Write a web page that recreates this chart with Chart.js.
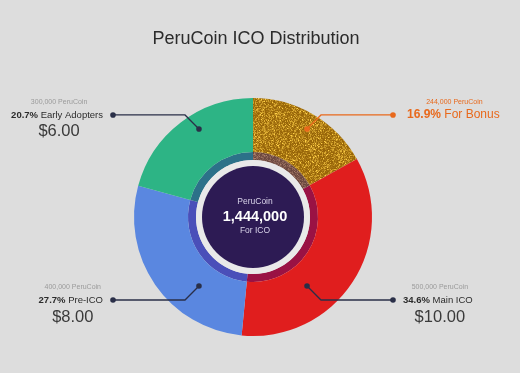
<!DOCTYPE html>
<html>
<head>
<meta charset="utf-8">
<script src="https://cdn.jsdelivr.net/npm/chart.js"></script>
<style>
html, body { margin: 0; background: #dddddd; }
canvas { display: block; }
</style>
</head>
<body>
<canvas id="icoChart" width="520" height="373"></canvas>
<script>
"use strict";

// data
const categories = ['For Bonus', 'Main ICO', 'Pre-ICO', 'Early Adopters'];
const coins = [244000, 500000, 400000, 300000];
const coinLabels = ['244,000 PeruCoin', '500,000 PeruCoin', '400,000 PeruCoin', '300,000 PeruCoin'];
const percentLabels = ['16.9%', '34.6%', '27.7%', '20.7%'];
const prices = ['', '$10.00', '$8.00', '$6.00'];
const totalLabel = '1,444,000';

const FONT = '"Liberation Sans", Arial, sans-serif';

const canvas = document.getElementById('icoChart');
const ctx = canvas.getContext('2d');

// glittery texture for the bonus slice
function noisePattern(dark, light, seed) {
    const c = document.createElement('canvas');
    c.width = c.height = 96;
    const g = c.getContext('2d');
    const img = g.createImageData(96, 96);
    let s = seed;
    for (let i = 0; i < img.data.length; i += 4) {
        s = (s * 1103515245 + 12345) & 0x7fffffff;
        let t = (s % 1000) / 1000;
        t = t * t * 0.9;
        if ((s >> 10) % 100 > 96) t = 1.2;
        for (let k = 0; k < 3; k++) {
            img.data[i + k] = Math.max(0, Math.min(255, dark[k] + (light[k] - dark[k]) * t));
        }
        img.data[i + 3] = 255;
    }
    g.putImageData(img, 0, 0);
    return ctx.createPattern(c, 'repeat');
}

const gold = noisePattern([150, 100, 8], [238, 190, 60], 7);
const goldDark = noisePattern([105, 70, 62], [160, 118, 100], 11);

const outerColors = [gold, '#e01e1e', '#5a87e0', '#2db485'];
const innerColors = [goldDark, '#9a1244', '#4a4fb9', '#2c7189'];

// where each callout leaves the ring (fraction of radius from centre) and which side it goes
const anchors = [
    { dx: 0.454, dy: -0.74, side: 1 },
    { dx: 0.454, dy: 0.58, side: 1 },
    { dx: -0.454, dy: 0.58, side: -1 },
    { dx: -0.454, dy: -0.74, side: -1 },
];

const calloutPlugin = {
    id: 'callouts',
    afterDatasetsDraw(chart) {
        const c = chart.ctx;
        const arc = chart.getDatasetMeta(0).data[0];
        const cx = arc.x, cy = arc.y, r = arc.outerRadius;
        const cut = chart.getDatasetMeta(1).data[0].innerRadius;

        // centre discs
        c.save();
        c.fillStyle = '#e9e9e9';
        c.beginPath(); c.arc(cx, cy, cut, 0, Math.PI * 2); c.fill();
        c.fillStyle = '#2d1b54';
        c.beginPath(); c.arc(cx, cy, cut - 6, 0, Math.PI * 2); c.fill();

        c.textAlign = 'center';
        c.textBaseline = 'middle';
        c.fillStyle = '#d9d4ea';
        c.font = '8.5px ' + FONT;
        c.fillText('PeruCoin', cx + 2, cy - 15);
        c.fillText('For ICO', cx + 2, cy + 14);
        c.fillStyle = '#ffffff';
        c.font = 'bold 14.5px ' + FONT;
        c.fillText(totalLabel, cx + 2, cy);

        // title
        c.fillStyle = '#2b2b2b';
        c.font = '18px ' + FONT;
        c.fillText('PeruCoin ICO Distribution', 256, 39);

        // callouts
        categories.forEach((name, i) => {
            const a = anchors[i];
            const bonus = prices[i] === '';
            const col = bonus ? '#e8691c' : '#2a2f48';
            const px = cx + a.dx * r, py = cy + a.dy * r;
            const ly = py + (a.dy < 0 ? -14 : 14);
            const ex = cx + a.side * 68;
            const dx = cx + a.side * 140;

            c.strokeStyle = col;
            c.fillStyle = col;
            c.lineWidth = 1.3;
            c.beginPath();
            c.moveTo(px, py); c.lineTo(ex, ly); c.lineTo(dx, ly);
            c.stroke();
            c.beginPath(); c.arc(px, py, 2.8, 0, Math.PI * 2); c.fill();
            c.beginPath(); c.arc(dx, ly, 2.8, 0, Math.PI * 2); c.fill();

            const size = bonus ? 12 : 9.5;
            const pct = percentLabels[i] + ' ';
            c.font = 'bold ' + size + 'px ' + FONT;
            const w1 = c.measureText(pct).width;
            c.font = size + 'px ' + FONT;
            const w2 = c.measureText(name).width;
            const w = w1 + w2;
            const gap = bonus ? 14 : 10;
            const left = a.side > 0 ? dx + gap : dx - gap - w;
            const mid = left + w / 2;

            c.textAlign = 'left';
            c.fillStyle = bonus ? '#e8691c' : '#2b2b2b';
            c.font = 'bold ' + size + 'px ' + FONT;
            c.fillText(pct, left, ly);
            c.font = size + 'px ' + FONT;
            c.fillText(name, left + w1, ly);

            c.textAlign = 'center';
            c.fillStyle = bonus ? '#e8691c' : '#9a9a9a';
            c.font = '7px ' + FONT;
            c.fillText(coinLabels[i], mid + (bonus ? 1 : 2), ly - 12.5);

            if (!bonus) {
                c.fillStyle = '#3a3a3a';
                c.font = '16.5px ' + FONT;
                c.fillText(prices[i], mid + 2, ly + 17);
            }
        });
        c.restore();
    }
};

new Chart(ctx, {
    type: 'doughnut',
    data: {
        labels: categories,
        datasets: [
            { data: coins, backgroundColor: outerColors, borderWidth: 0, weight: 54 },
            { data: coins, backgroundColor: innerColors, borderWidth: 0, weight: 8 },
        ]
    },
    options: {
        responsive: false,
        animation: false,
        events: [],
        cutout: '47.9%',
        layout: {
            padding: { top: 98, bottom: 37, left: 134, right: 148 }
        },
        plugins: {
            legend: { display: false },
            tooltip: { enabled: false },
        }
    },
    plugins: [calloutPlugin]
});
</script>
</body>
</html>
